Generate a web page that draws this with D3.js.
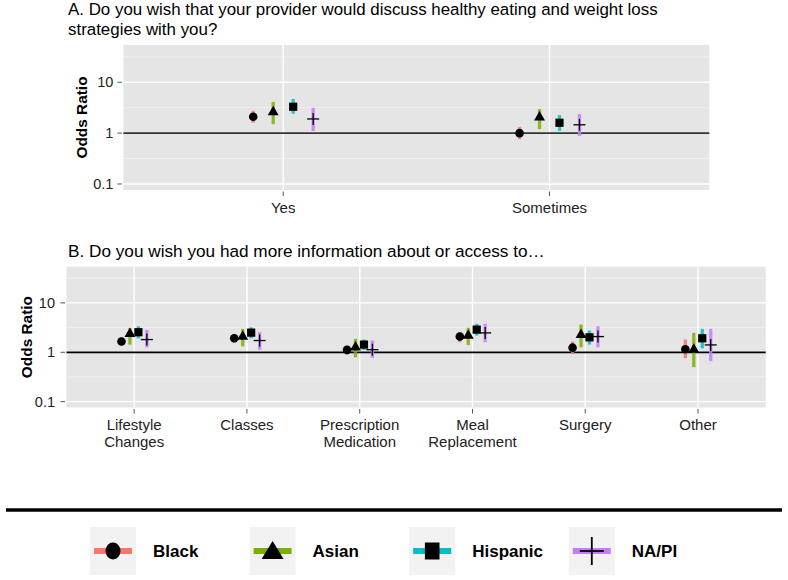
<!DOCTYPE html>
<html>
<head>
<meta charset="utf-8">
<script src="https://cdn.jsdelivr.net/npm/d3@7/dist/d3.min.js"></script>
<style>
  html, body { margin: 0; padding: 0; background: #fff; }
  svg { display: block; font-family: "Liberation Sans", Arial, Helvetica, sans-serif; }
</style>
</head>
<body>
<svg id="chart" width="788" height="580"></svg>
<script>
// ---------- data ----------
const groups = ["Black", "Asian", "Hispanic", "NA/PI"];
const groupColors = ["#F8766D", "#7CAE00", "#00BFC4", "#C77CFF"];
const groupShapes = ["circle", "triangle", "square", "cross"];

const yTickValues = [0.1, 1, 10];
const yTickLabels = ["0.1", "1", "10"];

// Panel A
const titleA = ["A. Do you wish that your provider would discuss healthy eating and weight loss", "strategies with you?"];
const categoriesA = ["Yes", "Sometimes"];
const estA_Black    = [2.1, 1.0];
const loA_Black     = [1.6, 0.76];
const hiA_Black     = [2.75, 1.33];
const estA_Asian    = [2.6, 2.04];
const loA_Asian     = [1.5, 1.2];
const hiA_Asian     = [4.1, 2.97];
const estA_Hispanic = [3.3, 1.6];
const loA_Hispanic  = [2.4, 1.11];
const hiA_Hispanic  = [4.7, 2.26];
const estA_NAPI     = [1.9, 1.46];
const loA_NAPI      = [1.1, 0.88];
const hiA_NAPI      = [3.15, 2.37];

// Panel B
const titleB = ["B. Do you wish you had more information about or access to\u2026"];
const categoriesB = [["Lifestyle", "Changes"], ["Classes"], ["Prescription", "Medication"], ["Meal", "Replacement"], ["Surgery"], ["Other"]];
const estB_Black    = [1.65, 1.92, 1.12, 2.08, 1.24, 1.15];
const loB_Black     = [1.37, 1.55, 0.90, 1.60, 0.93, 0.76];
const hiB_Black     = [2.00, 2.36, 1.30, 2.55, 1.65, 1.81];
const estB_Asian    = [2.36, 2.08, 1.26, 2.18, 2.25, 1.13];
const loB_Asian     = [1.43, 1.32, 0.79, 1.41, 1.26, 0.50];
const hiB_Asian     = [3.10, 2.98, 1.87, 3.13, 3.65, 2.47];
const estB_Hispanic = [2.55, 2.50, 1.43, 2.88, 2.01, 1.92];
const loB_Hispanic  = [1.92, 1.92, 1.12, 2.18, 1.43, 1.20];
const hiB_Hispanic  = [3.37, 3.20, 1.81, 3.77, 2.75, 2.98];
const estB_NAPI     = [1.81, 1.73, 1.13, 2.47, 2.08, 1.41];
const loB_NAPI      = [1.26, 1.12, 0.77, 1.60, 1.26, 0.66];
const hiB_NAPI      = [2.85, 2.55, 1.73, 3.77, 3.37, 2.98];

const yDomain = [Math.pow(10, -1.118), Math.pow(10, 1.733)];

// ---------- helpers ----------
const svg = d3.select("#chart");
const FONT = '"Liberation Sans", Arial, Helvetica, sans-serif';

function buildRows(cats, est, lo, hi) {
  const rows = [];
  groups.forEach((g, gi) => {
    cats.forEach((c, ci) => {
      rows.push({ cat: ci, group: gi, est: est[gi][ci], lo: lo[gi][ci], hi: hi[gi][ci] });
    });
  });
  return rows;
}

function drawShape(sel, shape, cx, cy) {
  if (shape === "circle") {
    sel.append("circle").attr("cx", cx).attr("cy", cy).attr("r", 4.3).attr("fill", "#000");
  } else if (shape === "triangle") {
    const sym = d3.symbol().type(d3.symbolTriangle).size(52);
    sel.append("path").attr("d", sym()).attr("transform", `translate(${cx},${cy})`).attr("fill", "#000");
  } else if (shape === "square") {
    const w = 8.2;
    sel.append("rect").attr("x", cx - w / 2).attr("y", cy - w / 2).attr("width", w).attr("height", w).attr("fill", "#000");
  } else if (shape === "cross") {
    const h = 6;
    sel.append("line").attr("x1", cx - h).attr("x2", cx + h).attr("y1", cy).attr("y2", cy).attr("stroke", "#000").attr("stroke-width", 1.3);
    sel.append("line").attr("x1", cx).attr("x2", cx).attr("y1", cy - h).attr("y2", cy + h).attr("stroke", "#000").attr("stroke-width", 1.3);
  }
}

function panel(opts) {
  const { left, right, top, bottom, cats, rows, titleLines, titleY, titleSize, yTitleX, labelGap, hlineColor } = opts;
  const g = svg.append("g");

  const x = d3.scalePoint().domain(d3.range(cats.length)).range([left, right]).padding(0.6);
  const y = d3.scaleLog().domain(yDomain).range([bottom, top]);
  const step = x.step();
  const dodgeWidth = 0.3;
  const dodge = gi => (-dodgeWidth / 2 + dodgeWidth / groups.length * (gi + 0.5)) * step;

  g.append("rect").attr("x", left).attr("y", top).attr("width", right - left).attr("height", bottom - top).attr("fill", "#E5E5E5");

  const minor = [Math.pow(10, -0.5), Math.pow(10, 0.5), Math.pow(10, 1.5)];
  g.selectAll(".minor").data(minor).enter().append("line")
    .attr("x1", left).attr("x2", right).attr("y1", d => y(d)).attr("y2", d => y(d))
    .attr("stroke", "#F2F2F2").attr("stroke-width", 0.8);
  g.selectAll(".major").data(yTickValues).enter().append("line")
    .attr("x1", left).attr("x2", right).attr("y1", d => y(d)).attr("y2", d => y(d))
    .attr("stroke", "#FFFFFF").attr("stroke-width", 1.4);
  g.selectAll(".vmajor").data(d3.range(cats.length)).enter().append("line")
    .attr("x1", d => x(d)).attr("x2", d => x(d)).attr("y1", top).attr("y2", bottom)
    .attr("stroke", "#FFFFFF").attr("stroke-width", 1.4);

  g.append("line").attr("x1", left).attr("x2", right).attr("y1", y(1)).attr("y2", y(1))
    .attr("stroke", hlineColor).attr("stroke-width", 1.8);

  g.selectAll(".err").data(rows).enter().append("line")
    .attr("x1", d => x(d.cat) + dodge(d.group)).attr("x2", d => x(d.cat) + dodge(d.group))
    .attr("y1", d => y(d.lo)).attr("y2", d => y(d.hi))
    .attr("stroke", d => groupColors[d.group]).attr("stroke-width", 3.3).attr("stroke-opacity", 0.85);

  rows.forEach(d => {
    drawShape(g, groupShapes[d.group], x(d.cat) + dodge(d.group), y(d.est));
  });

  yTickValues.forEach((v, i) => {
    g.append("line").attr("x1", left - 6).attr("x2", left - 1.5).attr("y1", y(v)).attr("y2", y(v))
      .attr("stroke", "#555").attr("stroke-width", 1);
    g.append("text").attr("x", left - labelGap).attr("y", y(v)).attr("dy", "0.35em")
      .attr("text-anchor", "end").attr("font-size", 14.5).attr("fill", "#222").attr("font-family", FONT)
      .text(yTickLabels[i]);
  });

  cats.forEach((c, ci) => {
    g.append("line").attr("x1", x(ci)).attr("x2", x(ci)).attr("y1", bottom + 1.5).attr("y2", bottom + 6)
      .attr("stroke", "#555").attr("stroke-width", 1);
    const lines = Array.isArray(c) ? c : [c];
    const t = g.append("text").attr("text-anchor", "middle").attr("font-size", 15).attr("fill", "#222").attr("font-family", FONT);
    lines.forEach((ln, li) => {
      t.append("tspan").attr("x", x(ci)).attr("y", bottom + 22.5 + li * 16.5).text(ln);
    });
  });

  g.append("text").attr("transform", `translate(${yTitleX},${(top + bottom) / 2}) rotate(-90)`)
    .attr("text-anchor", "middle").attr("font-size", 15.4).attr("font-weight", "bold").attr("fill", "#000")
    .attr("font-family", FONT).text("Odds Ratio");

  titleLines.forEach((ln, li) => {
    g.append("text").attr("x", 68).attr("y", titleY + li * 19.5).attr("font-size", titleSize).attr("fill", "#000")
      .attr("font-family", FONT).text(ln);
  });
}

panel({
  left: 123.4, right: 709.3, top: 45, bottom: 190,
  cats: categoriesA,
  rows: buildRows(categoriesA, [estA_Black, estA_Asian, estA_Hispanic, estA_NAPI],
                  [loA_Black, loA_Asian, loA_Hispanic, loA_NAPI],
                  [hiA_Black, hiA_Asian, hiA_Hispanic, hiA_NAPI]),
  titleLines: titleA, titleY: 15, titleSize: 16.9, yTitleX: 87, labelGap: 10, hlineColor: "#333"
});

panel({
  left: 66.5, right: 765.7, top: 266.7, bottom: 407.5,
  cats: categoriesB,
  rows: buildRows(categoriesB, [estB_Black, estB_Asian, estB_Hispanic, estB_NAPI],
                  [loB_Black, loB_Asian, loB_Hispanic, loB_NAPI],
                  [hiB_Black, hiB_Asian, hiB_Hispanic, hiB_NAPI]),
  titleLines: titleB, titleY: 257, titleSize: 17.2, yTitleX: 31.5, labelGap: 11.5, hlineColor: "#000"
});

// ---------- legend ----------
svg.append("line").attr("x1", 6).attr("x2", 782).attr("y1", 510).attr("y2", 510)
  .attr("stroke", "#000").attr("stroke-width", 3.4);

const legendX0 = 90, legendStep = 159.6, keyW = 46, keyH = 48, keyY = 527;
const lg = svg.append("g");
groups.forEach((gname, gi) => {
  const kx = legendX0 + gi * legendStep;
  lg.append("rect").attr("x", kx).attr("y", keyY).attr("width", keyW).attr("height", keyH).attr("fill", "#F2F2F2");
  const cy = keyY + 24;
  lg.append("line").attr("x1", kx + 4).attr("x2", kx + keyW - 4).attr("y1", cy).attr("y2", cy)
    .attr("stroke", groupColors[gi]).attr("stroke-width", 6);
  const cx = kx + keyW / 2;
  if (groupShapes[gi] === "circle") {
    lg.append("ellipse").attr("cx", cx).attr("cy", cy).attr("rx", 7.5).attr("ry", 8.5).attr("fill", "#000");
  } else if (groupShapes[gi] === "triangle") {
    lg.append("path").attr("d", `M${cx},${cy - 10} L${cx + 11},${cy + 8} L${cx - 11},${cy + 8} Z`).attr("fill", "#000");
  } else if (groupShapes[gi] === "square") {
    lg.append("rect").attr("x", cx - 7.3).attr("y", cy - 8.5).attr("width", 14.6).attr("height", 17).attr("fill", "#000");
  } else {
    lg.append("line").attr("x1", cx - 12).attr("x2", cx + 12).attr("y1", cy).attr("y2", cy).attr("stroke", "#000").attr("stroke-width", 1.8);
    lg.append("line").attr("x1", cx).attr("x2", cx).attr("y1", cy - 14).attr("y2", cy + 14).attr("stroke", "#000").attr("stroke-width", 1.8);
  }
  lg.append("text").attr("x", kx + 63).attr("y", cy + 6).attr("font-size", 17).attr("font-weight", "bold")
    .attr("fill", "#000").attr("font-family", FONT).text(gname);
});
</script>
</body>
</html>
